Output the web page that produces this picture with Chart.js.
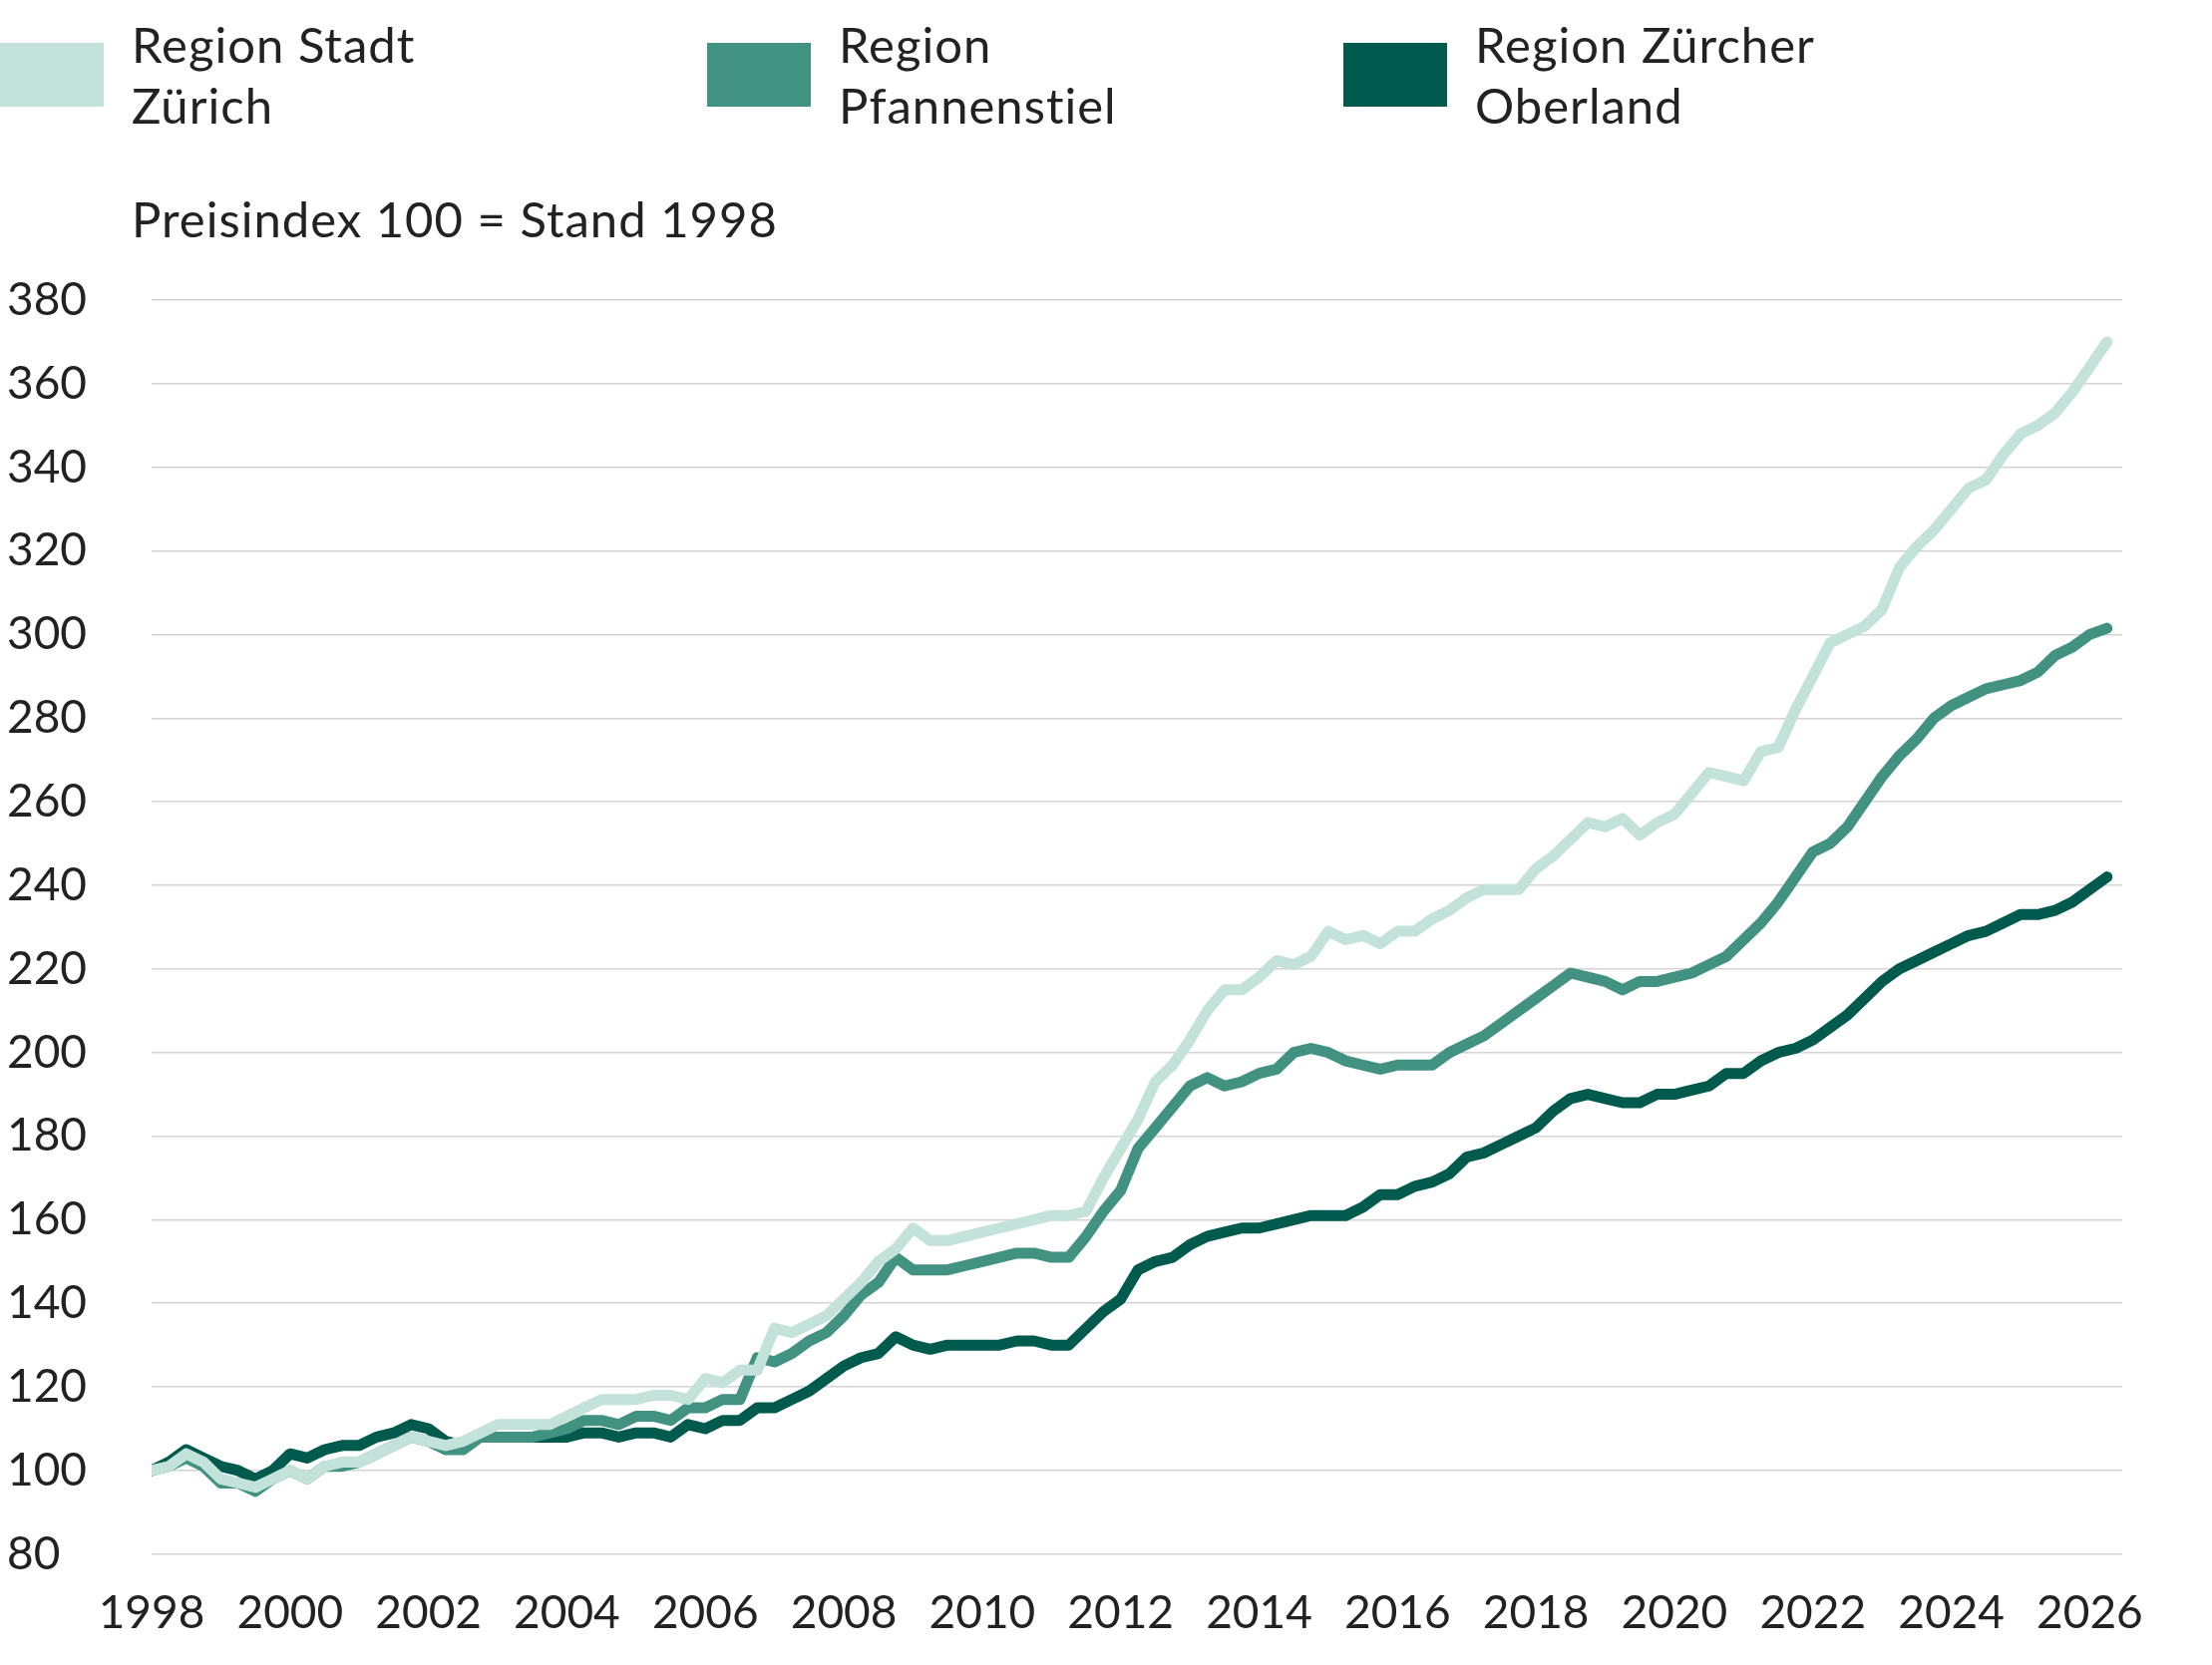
<!DOCTYPE html>
<html><head><meta charset="utf-8">
<script src="https://cdn.jsdelivr.net/npm/chart.js@4"></script>
<style>
body{margin:0;width:2218px;height:1670px;background:#fff;font-family:Lato,"Noto Sans",sans-serif;color:#222;overflow:hidden}
.lg{position:absolute;top:14px;font-size:49px;line-height:61px;font-weight:400}
.lg i{position:absolute;left:0;top:29px;width:104px;height:64px}
.lg span{position:absolute;left:132px;top:0;white-space:nowrap;letter-spacing:1px}
#sub{position:absolute;left:132px;top:190px;font-size:49px;font-weight:400;letter-spacing:1px}
#wrap{position:absolute;left:0;top:0;width:2218px;height:1670px}
</style></head><body>
<div class="lg" style="left:0"><i style="background:#c3e3da"></i><span>Region Stadt<br>Zürich</span></div>
<div class="lg" style="left:709px"><i style="background:#429281"></i><span>Region<br>Pfannenstiel</span></div>
<div class="lg" style="left:1347px"><i style="background:#005a4e"></i><span>Region Zürcher<br>Oberland</span></div>
<div id="sub">Preisindex 100 = Stand 1998</div>
<div id="wrap"><canvas id="c"></canvas></div>
<script>
const startYear = 1998;
const seriesNames = ['Region Stadt Zürich', 'Region Pfannenstiel', 'Region Zürcher Oberland'];
const colors = ['#c3e3da', '#429281', '#005a4e'];
const stadt = [
  100,101,104,102, 98,97,96,98, 100,98,101,102, 102,104,106,108, 107,106,107,109,
  111,111,111,111, 113,115,117,117, 117,118,118,117, 122,121,124,124, 134,133,135,137,
  141,145,150,153, 158,155,155,156, 157,158,159,160, 161,161,162,170, 177,184,193,197,
  203,210,215,215, 218,222,221,223, 229,227,228,226, 229,229,232,234, 237,239,239,239,
  244,247,251,255, 254,256,252,255, 257,262,267,266, 265,272,273,282, 290,298,300,302,
  306,316,321,325, 330,335,337,343, 348,350,353,358, 364,370];
const pfannenstiel = [
  100,101,103,101, 97,97,95,98, 100,98,101,101, 102,104,106,108, 107,105,105,108,
  108,108,108,109, 110,112,112,111, 113,113,112,115, 115,117,117,127, 126,128,131,133,
  137,142,145,151, 148,148,148,149, 150,151,152,152, 151,151,156,162, 167,177,182,187,
  192,194,192,193, 195,196,200,201, 200,198,197,196, 197,197,197,200, 202,204,207,210,
  213,216,219,218, 217,215,217,217, 218,219,221,223, 227,231,236,242, 248,250,254,260,
  266,271,275,280, 283,285,287,288, 289,291,295,297, 300,301.5];
const oberland = [
  100,102,105,103, 101,100,98,100, 104,103,105,106, 106,108,109,111, 110,107,106,108,
  108,108,108,108, 108,109,109,108, 109,109,108,111, 110,112,112,115, 115,117,119,122,
  125,127,128,132, 130,129,130,130, 130,130,131,131, 130,130,134,138, 141,148,150,151,
  154,156,157,158, 158,159,160,161, 161,161,163,166, 166,168,169,171, 175,176,178,180,
  182,186,189,190, 189,188,188,190, 190,191,192,195, 195,198,200,201, 203,206,209,213,
  217,220,222,224, 226,228,229,231, 233,233,234,236, 239,242];
const yTicks = [80,100,120,140,160,180,200,220,240,260,280,300,320,340,360,380];

const toPts = arr => arr.map((v, i) => ({ x: startYear + i * 0.25, y: v }));
const tickFont = { family: 'Lato', size: 46, weight: 400 };

new Chart(document.getElementById('c'), {
  type: 'line',
  data: {
    datasets: [stadt, pfannenstiel, oberland].map((arr, k) => ({
      label: seriesNames[k],
      data: toPts(arr),
      borderColor: colors[k],
      borderWidth: 11,
      pointRadius: 0,
      tension: 0,
      borderCapStyle: 'round',
      borderJoinStyle: 'round',
    })),
  },
  options: {
    responsive: true,
    maintainAspectRatio: false,
    animation: false,
    layout: { padding: { top: 301, right: 90, bottom: 0, left: 7 } },
    plugins: { legend: { display: false }, tooltip: { enabled: false } },
    scales: {
      x: {
        type: 'linear', min: 1998, max: 2026.47,
        afterBuildTicks: s => { s.ticks = []; for (let y = 1998; y <= 2026; y += 2) s.ticks.push({ value: y }); },
        ticks: { color: '#222', font: tickFont, maxRotation: 0, padding: 24,
                 callback: v => String(v) },
        grid: { display: false },
        border: { display: false },
      },
      y: {
        min: 80, max: 380,
        afterBuildTicks: s => { s.ticks = yTicks.map(v => ({ value: v })); },
        afterFit: s => { s.width = 145; },
        ticks: { color: '#222', font: tickFont, crossAlign: 'far', padding: 0 },
        grid: { color: '#d4d4d4', lineWidth: 1.5, drawTicks: false },
        border: { display: false },
      },
    },
  },
});
</script>
</body></html>
